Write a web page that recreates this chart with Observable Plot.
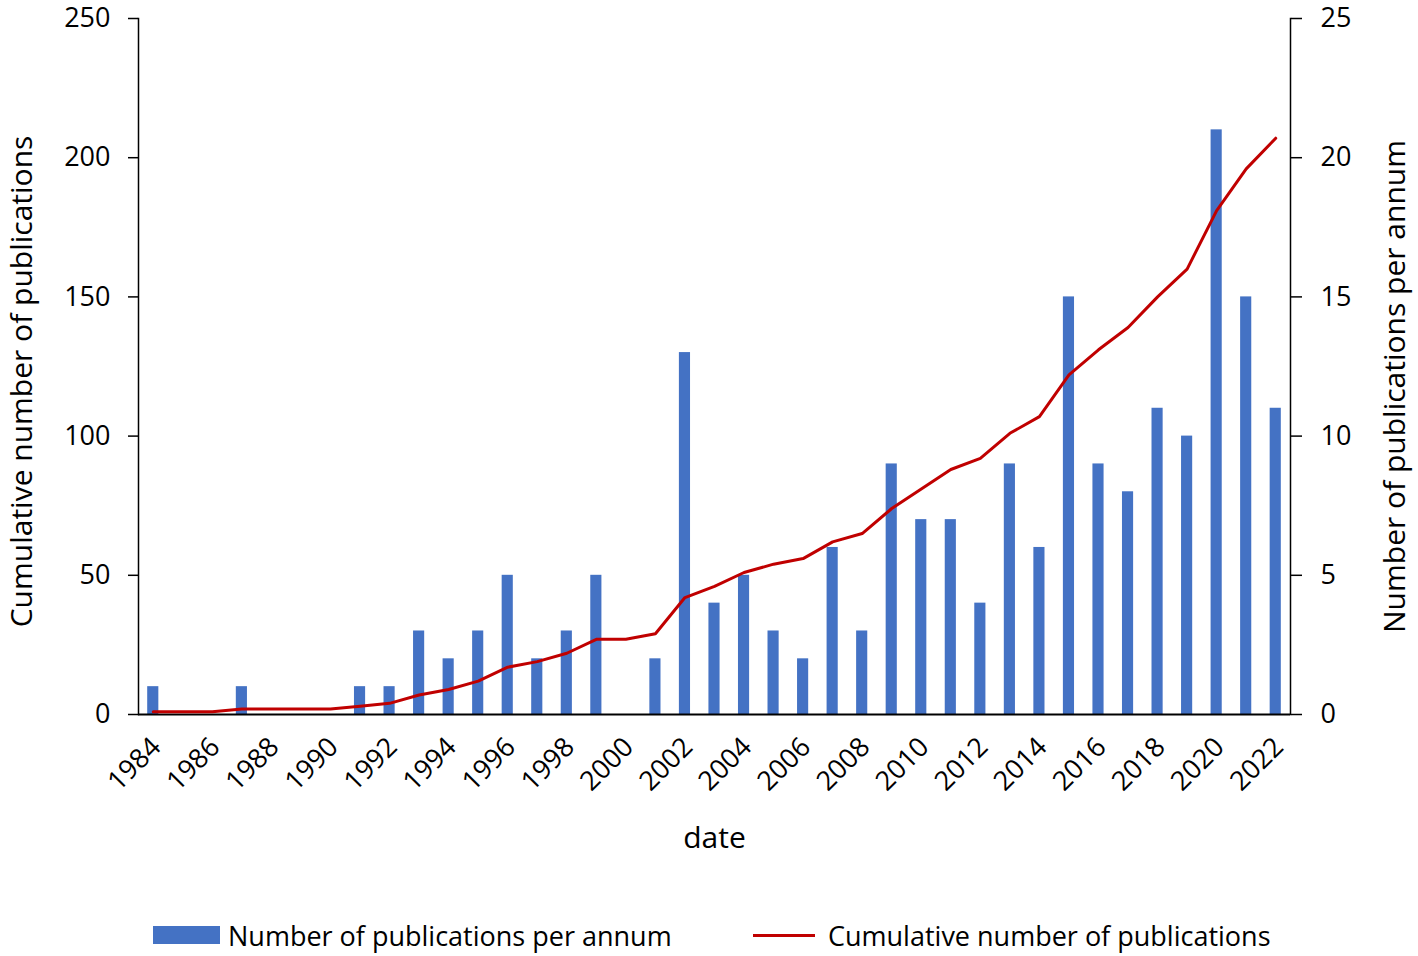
<!DOCTYPE html>
<html>
<head>
<meta charset="utf-8">
<script src="https://cdn.jsdelivr.net/npm/d3@7"></script>
<script src="https://cdn.jsdelivr.net/npm/@observablehq/plot@0.6"></script>
<style>
  body { margin: 0; background: #fff; font-family: "Open Sans", Lato, sans-serif; }
  #wrap { position: relative; width: 1418px; height: 956px; }
  #wrap svg { position: absolute; left: 0; top: 0; }
  #legend { position: absolute; top: 915px; left: 0; width: 1418px; height: 40px; font-size: 27px; color: #000; }
  .item { position: absolute; top: 0; display: flex; align-items: center; height: 40px; white-space: nowrap; }
  .sw-bar { width: 67px; height: 18px; background: #4472C4; margin-right: 8px; }
  .sw-line { width: 62px; height: 3px; background: #C00000; margin-right: 13px; }
</style>
</head>
<body>
<div id="wrap">
  <div id="legend">
    <div class="item" style="left:153px"><span class="sw-bar"></span><span>Number of publications per annum</span></div>
    <div class="item" style="left:753px"><span class="sw-line"></span><span>Cumulative number of publications</span></div>
  </div>
</div>
<script>
const years = ["1984","1985","1986","1987","1988","1989","1990","1991","1992","1993",
  "1994","1995","1996","1997","1998","1999","2000","2001","2002","2003",
  "2004","2005","2006","2007","2008","2009","2010","2011","2012","2013",
  "2014","2015","2016","2017","2018","2019","2020","2021","2022"];
const perAnnum = [1,0,0,1,0,0,0,1,1,3,
  2,3,5,2,3,5,0,2,13,4,
  5,3,2,6,3,9,7,7,4,9,
  6,15,9,8,11,10,21,15,11];
const cumulative = [1,1,1,2,2,2,2,3,4,7,
  9,12,17,19,22,27,27,29,42,46,
  51,54,56,62,65,74,81,88,92,101,
  107,122,131,139,150,160,181,196,207];
const xTickLabels = ["1984","1986","1988","1990","1992","1994","1996","1998","2000","2002",
  "2004","2006","2008","2010","2012","2014","2016","2018","2020","2022"];
const leftTicks = [0,50,100,150,200,250];
const rightTicks = [0,5,10,15,20,25];

const data = years.map((y, i) => ({year: y, count: perAnnum[i], cum: cumulative[i]}));

const FONT = "'Open Sans', Lato, sans-serif";
const common = {
  width: 1418, height: 880,
  marginTop: 18, marginBottom: 166, marginLeft: 138, marginRight: 128,
  x: {type: "band", domain: years, padding: 0, round: false},
  style: {background: "transparent", fontFamily: FONT, fontSize: "27px", color: "#000", overflow: "visible"}
};

const barPlot = Plot.plot({
  ...common,
  y: {domain: [0, 25]},
  marks: [
    Plot.barY(data, {x: "year", y: "count", fill: "#4472C4", insetLeft: 9.2, insetRight: 9.2}),
    Plot.axisX({ticks: [], label: null, tickSize: 0}),
    Plot.axisY({anchor: "right", ticks: rightTicks, tickSize: 11, tickPadding: 19, label: null, strokeWidth: 1.5}),
    Plot.frame({anchor: "right", stroke: "#000", strokeWidth: 1.5}),
    Plot.text(["Number of publications per annum"], {frameAnchor: "right", textAnchor: "middle", lineAnchor: "middle", rotate: -90, dx: 105, dy: 20, fontSize: 30, fill: "#000"})
  ]
});

const linePlot = Plot.plot({
  ...common,
  y: {domain: [0, 250]},
  marks: [
    Plot.ruleY([0], {stroke: "#000", strokeWidth: 2}),
    Plot.line(data, {x: "year", y: "cum", stroke: "#C00000", strokeWidth: 3, strokeLinejoin: "round", curve: "linear"}),
    Plot.axisX({ticks: xTickLabels, tickRotate: -45, tickSize: 0, tickPadding: 28, dx: 3, label: null}),
    Plot.axisY({anchor: "left", ticks: leftTicks, tickSize: 10, tickPadding: 18, label: null, strokeWidth: 1.5}),
    Plot.frame({anchor: "left", stroke: "#000", strokeWidth: 1.5}),
    Plot.text(["Cumulative number of publications"], {frameAnchor: "left", textAnchor: "middle", lineAnchor: "middle", rotate: -90, dx: -116, dy: 15, fontSize: 30, fill: "#000"}),
    Plot.text(["date"], {frameAnchor: "bottom", lineAnchor: "middle", dy: 124, fontSize: 30, fill: "#000"})
  ]
});

const wrap = document.getElementById("wrap");
wrap.insertBefore(linePlot, wrap.firstChild);
wrap.insertBefore(barPlot, wrap.firstChild);
</script>
</body>
</html>
